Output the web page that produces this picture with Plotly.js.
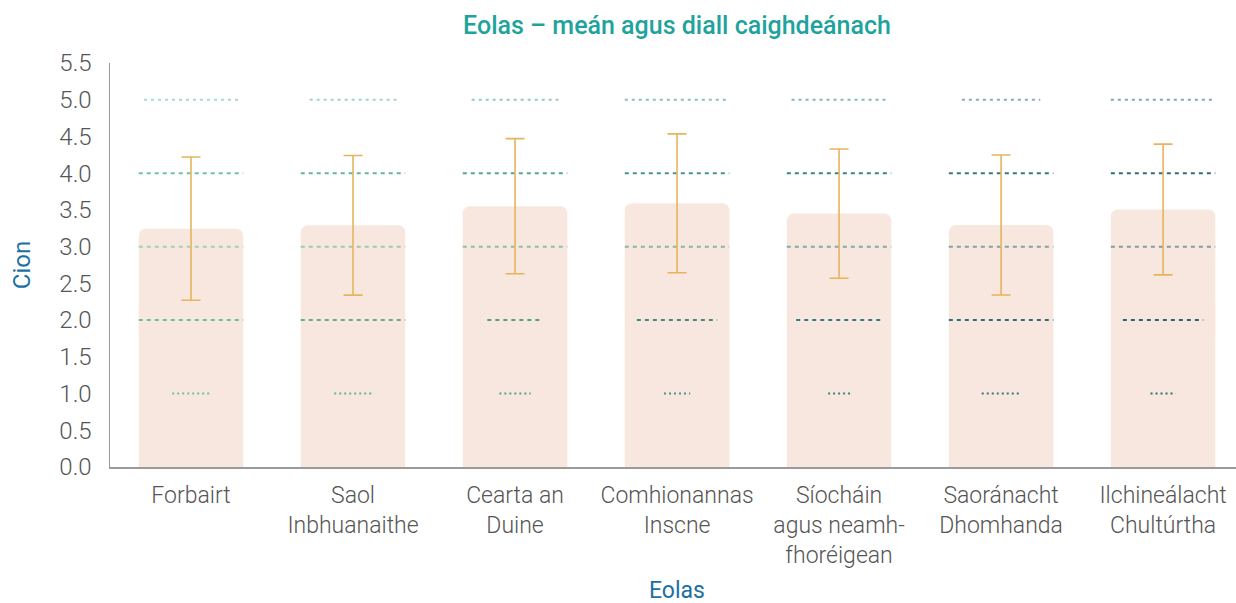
<!DOCTYPE html>
<html>
<head>
<meta charset="utf-8">
<script src="https://cdn.plot.ly/plotly-3.0.1.min.js"></script>
<style>
  html, body { margin: 0; padding: 0; background: #ffffff; }
  #chart { width: 1236px; height: 603px; }
</style>
</head>
<body>
<div id="chart"></div>
<script>
// ---- Data ----
const categories = [
  "Forbairt",
  "Saol<br>Inbhuanaithe",
  "Cearta an<br>Duine",
  "Comhionannas<br>Inscne",
  "Síocháin<br>agus neamh-<br>fhoréigean",
  "Saoránacht<br>Dhomhanda",
  "Ilchineálacht<br>Chultúrtha"
];
const means = [3.245, 3.29, 3.55, 3.59, 3.45, 3.295, 3.505];
const stdDevs = [0.975, 0.95, 0.92, 0.945, 0.88, 0.953, 0.89];
const levels = [1, 2, 3, 4, 5];
// relative share of responses at each level (1..5), scaled so the largest fills the bar width
const shareForbairt      = [0.36, 1.00, 1.00, 1.00, 0.90];
const shareSaol          = [0.36, 1.00, 1.00, 1.00, 0.83];
const shareCearta        = [0.30, 0.53, 1.00, 1.00, 0.83];
const shareComhionannas  = [0.25, 0.77, 1.00, 1.00, 1.00];
const shareSiochain      = [0.21, 0.82, 1.00, 1.00, 0.91];
const shareSaoranacht    = [0.37, 1.00, 1.00, 1.00, 0.75];
const shareIlchinealacht = [0.24, 0.77, 1.00, 1.00, 1.00];
const yTickVals = [0, 0.5, 1, 1.5, 2, 2.5, 3, 3.5, 4, 4.5, 5, 5.5];
const yTickText = ["0.0","0.5","1.0","1.5","2.0","2.5","3.0","3.5","4.0","4.5","5.0","5.5"];
const xTitle = "Eolas";
const yTitle = "Cion";
const chartTitle = "Eolas – meán agus diall caighdeánach";

// ---- Styles ----
const shares = [shareForbairt, shareSaol, shareCearta, shareComhionannas, shareSiochain, shareSaoranacht, shareIlchinealacht];
const lineColors = ["#5fbf95", "#52ae8c", "#409c86", "#31897f", "#26787a", "#1f6b74", "#1a5f6e"];
const levelOpacity = [0.9, 0.95, 0.55, 0.9, 0.55];
const levelDash = ["2px,3px", "4px,4px", "4px,4px", "4px,4px", "3px,4px"];
const barWidth = 0.645;

const xIdx = categories.map((c, i) => i);
const traces = [];

traces.push({
  type: "bar",
  x: xIdx,
  y: means,
  width: barWidth,
  marker: { color: "#f8e7de", line: { width: 0 } },
  hoverinfo: "y",
  showlegend: false
});

shares.forEach((s, ci) => {
  levels.forEach((lv, li) => {
    const half = s[li] * barWidth / 2;
    traces.push({
      type: "scatter",
      mode: "lines",
      x: [ci - half, ci + half],
      y: [lv, lv],
      line: { color: lineColors[ci], width: 2, dash: levelDash[li] },
      opacity: levelOpacity[li],
      hoverinfo: "skip",
      showlegend: false
    });
  });
});

traces.push({
  type: "scatter",
  mode: "markers",
  x: xIdx,
  y: means,
  marker: { size: 1, opacity: 0 },
  error_y: { type: "data", array: stdDevs, visible: true, color: "#e6b45c", thickness: 1.6, width: 9.5 },
  hoverinfo: "skip",
  showlegend: false
});

const layout = {
  width: 1236,
  height: 603,
  margin: { l: 110, r: 0, t: 63, b: 136 },
  paper_bgcolor: "#ffffff",
  plot_bgcolor: "#ffffff",
  font: { family: "Roboto, sans-serif", color: "#555555", size: 23, weight: 300 },
  title: {
    text: chartTitle,
    font: { family: "Roboto, sans-serif", size: 25, color: "#1fa39d", weight: 500 },
    x: 677 / 1236, xanchor: "center", xref: "container",
    y: 1 - 25 / 603, yanchor: "middle", yref: "container"
  },
  xaxis: {
    range: [-0.5, 6.45],
    tickmode: "array",
    tickvals: xIdx,
    ticktext: categories,
    showgrid: false,
    zeroline: false,
    showline: true,
    linecolor: "#9a9a9a",
    linewidth: 1.5,
    ticks: "",
    ticklabelstandoff: 7,
    tickfont: { size: 23, color: "#555555", weight: 300 },
    fixedrange: true
  },
  yaxis: {
    range: [0, 5.5],
    tickmode: "array",
    tickvals: yTickVals,
    ticktext: yTickText,
    showgrid: false,
    zeroline: false,
    showline: true,
    linecolor: "#9a9a9a",
    linewidth: 1.5,
    ticks: "",
    ticklabelstandoff: 12,
    tickfont: { size: 24, color: "#555555", weight: 300 },
    title: { text: yTitle, font: { size: 24, color: "#1a6fa5", weight: 400 }, standoff: 22 },
    fixedrange: true
  },
  annotations: [{
    text: xTitle,
    xref: "paper", yref: "paper",
    x: 0.5036, y: 0,
    xanchor: "center", yanchor: "middle",
    yshift: -123,
    showarrow: false,
    font: { family: "Roboto, sans-serif", size: 23, color: "#1a6fa5", weight: 400 }
  }],
  barcornerradius: 7,
  showlegend: false
};

Plotly.newPlot("chart", traces, layout, { displayModeBar: false, staticPlot: true });
</script>
</body>
</html>
